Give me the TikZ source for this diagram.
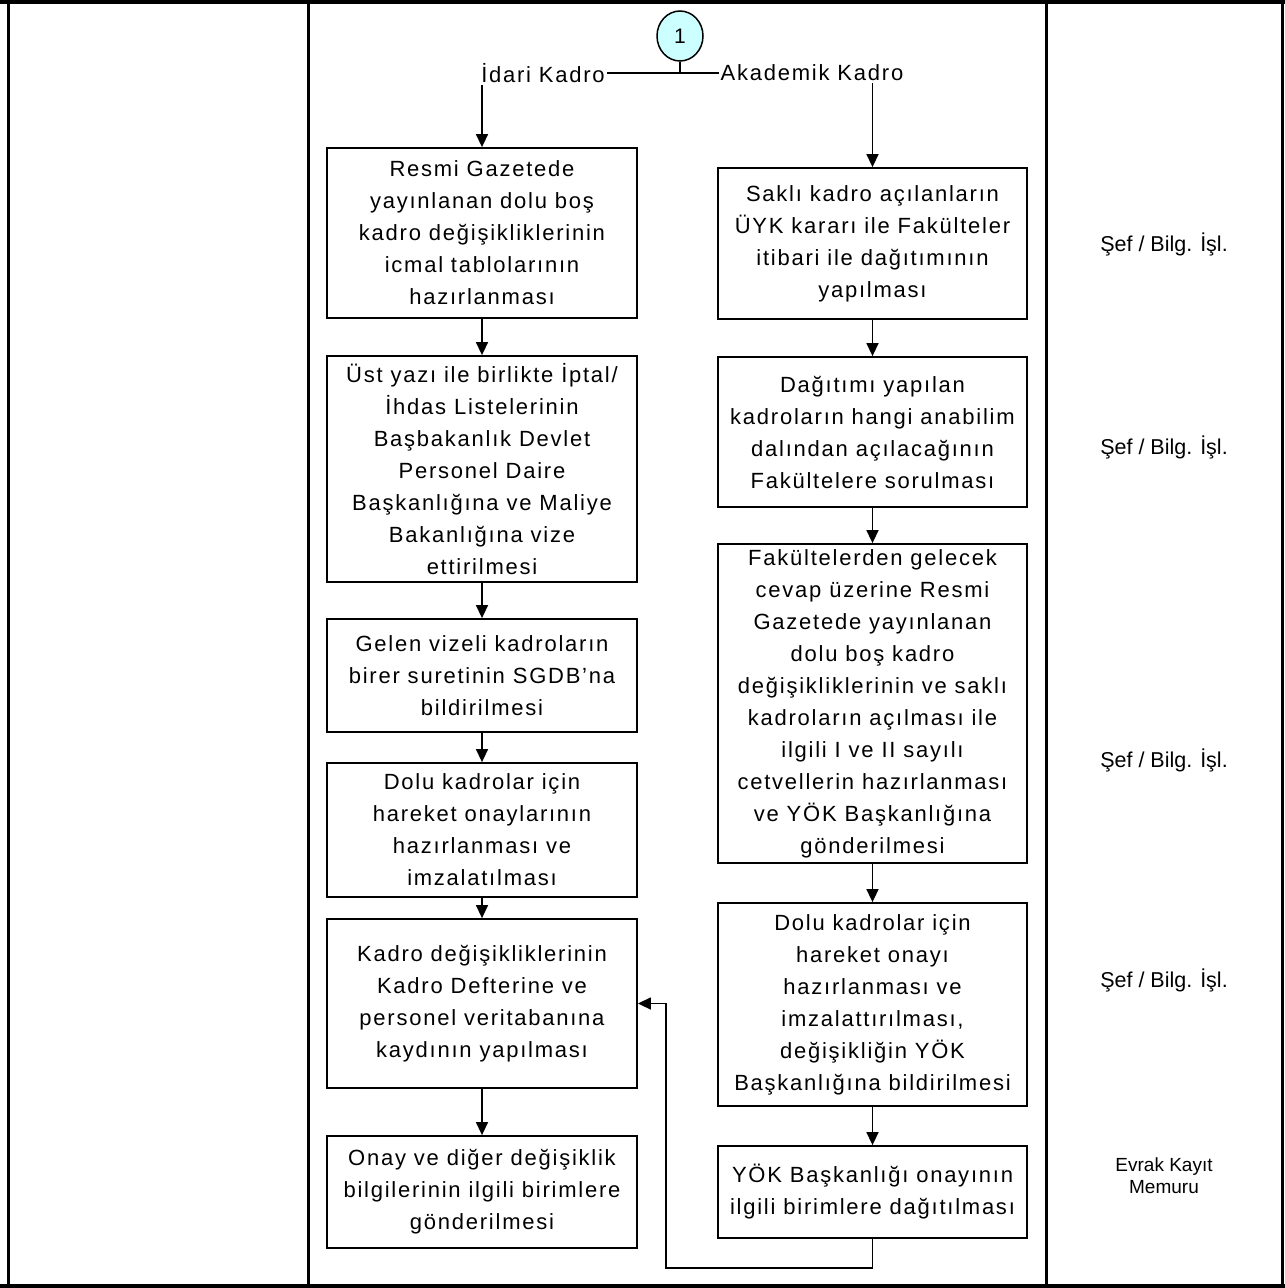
\documentclass[tikz,border=0pt]{standalone}
\usepackage{fontspec}
\setmainfont{Liberation Sans}
\usetikzlibrary{arrows.meta,shapes.geometric}
\definecolor{circfill}{HTML}{CCFFFF}
\newcommand\flowboxfont{\fontsize{22}{32}\selectfont\addfontfeature{LetterSpace=8}}
\newcommand\lanelblfont{\fontsize{21.5}{24}\selectfont}
\newcommand\lanesmallfont{\fontsize{19}{22}\selectfont}
\tikzset{
  flowbox/.style={draw, line width=1.8pt, inner sep=0pt, align=center, font=\flowboxfont},
  lbox/.style={flowbox, minimum width=310pt},
  rbox/.style={flowbox, minimum width=309pt},
  flow/.style={line width=1.5pt, -{Triangle[length=13pt,width=12pt]}},
  plainline/.style={line width=1.5pt},
  branchlbl/.style={fill=white, inner sep=2pt, font=\flowboxfont},
  lanelbl/.style={align=center, font=\lanelblfont},
  framethick/.style={line width=4.5pt},
  framethin/.style={line width=3pt},
}
\begin{document}
\begin{tikzpicture}[x=1pt, y=-1pt]
\useasboundingbox (0,0) rectangle (1285,1288);
% table frame
\draw[framethick] (0,2) -- (1285,2);
\draw[framethick] (0,1286) -- (1285,1286);
\draw[framethin] (8,0) -- (8,1288);
\draw[framethin] (308,0) -- (308,1288);
\draw[framethin] (1046,0) -- (1046,1288);
\draw[framethin] (1282,0) -- (1282,1288);

% connector circle
\node[ellipse, draw, line width=1.5pt, fill=circfill, minimum width=46pt, minimum height=50pt, inner sep=0pt, font=\fontsize{21}{24}\selectfont] (c) at (680,36) {1};
\coordinate (j) at (680,73);

% left column
\node[lbox, minimum height=170pt] (L1) at (482,233) {Resmi Gazetede\\yayınlanan dolu boş\\kadro değişikliklerinin\\icmal tablolarının\\hazırlanması};
\node[lbox, minimum height=226pt] (L2) at (482,469) {Üst yazı ile birlikte İptal/\\İhdas Listelerinin\\Başbakanlık Devlet\\Personel Daire\\Başkanlığına ve Maliye\\Bakanlığına vize\\ettirilmesi};
\node[lbox, minimum height=113pt] (L3) at (482,675.5) {Gelen vizeli kadroların\\birer suretinin SGDB’na\\bildirilmesi};
\node[lbox, minimum height=134pt] (L4) at (482,830) {Dolu kadrolar için\\hareket onaylarının\\hazırlanması ve\\imzalatılması};
\node[lbox, minimum height=169pt] (L5) at (482,1003.5) {Kadro değişikliklerinin\\Kadro Defterine ve\\personel veritabanına\\kaydının yapılması};
\node[lbox, minimum height=112pt] (L6) at (482,1192) {Onay ve diğer değişiklik\\bilgilerinin ilgili birimlere\\gönderilmesi};

% right column
\node[rbox, minimum height=151pt] (R1) at (872.5,243.5) {Saklı kadro açılanların\\ÜYK kararı ile Fakülteler\\itibari ile dağıtımının\\yapılması};
\node[rbox, minimum height=150pt] (R2) at (872.5,432) {Dağıtımı yapılan\\kadroların hangi anabilim\\dalından açılacağının\\Fakültelere sorulması};
\node[rbox, minimum height=319pt] (R3) at (872.5,703.5) {Fakültelerden gelecek\\cevap üzerine Resmi\\Gazetede yayınlanan\\dolu boş kadro\\değişikliklerinin ve saklı\\kadroların açılması ile\\ilgili I ve II sayılı\\cetvellerin hazırlanması\\ve YÖK Başkanlığına\\gönderilmesi};
\node[rbox, minimum height=203pt] (R4) at (872.5,1004.5) {Dolu kadrolar için\\hareket onayı\\hazırlanması ve\\imzalattırılması,\\değişikliğin YÖK\\Başkanlığına bildirilmesi};
\node[rbox, minimum height=92pt] (R5) at (872.5,1192) {YÖK Başkanlığı onayının\\ilgili birimlere dağıtılması};

% branches
\draw[plainline] (c.south) -- (j);
\draw[flow] (j) -| (L1.north);
\draw[flow] (j) -| (R1.north);
\node[branchlbl] (lblI) at (543,73) {İdari Kadro};
\node[branchlbl] (lblA) at (812,73) {Akademik Kadro};

% left flow
\draw[flow] (L1) -- (L2);
\draw[flow] (L2) -- (L3);
\draw[flow] (L3) -- (L4);
\draw[flow] (L4) -- (L5);
\draw[flow] (L5) -- (L6);

% right flow
\draw[flow] (R1) -- (R2);
\draw[flow] (R2) -- (R3);
\draw[flow] (R3) -- (R4);
\draw[flow] (R4) -- (R5);

% feedback
\coordinate (fb) at (666,1268);
\draw[flow] (R5.south) |- (fb) |- (L5.east);

% lane labels
\node[lanelbl] (s1) at (1164,244) {Şef / Bilg. İşl.};
\node[lanelbl] (s2) at (1164,447) {Şef / Bilg. İşl.};
\node[lanelbl] (s3) at (1164,760) {Şef / Bilg. İşl.};
\node[lanelbl] (s4) at (1164,980) {Şef / Bilg. İşl.};
\node[align=center, font=\lanesmallfont] (s5) at (1164,1176) {Evrak Kayıt\\Memuru};
\end{tikzpicture}
\end{document}
